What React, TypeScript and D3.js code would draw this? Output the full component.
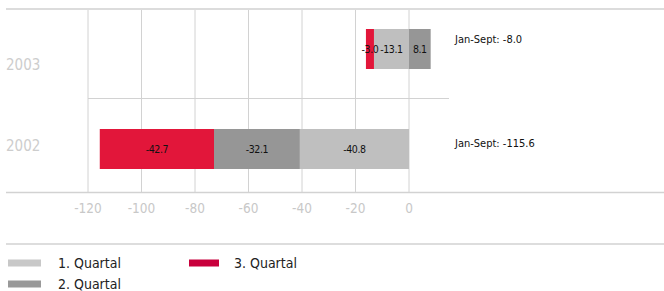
import React from "react";
import * as d3 from "d3";

const years = ["2003", "2002"];
const q1 = [-13.1, -40.8];
const q2 = [8.1, -32.1];
const q3 = [-3.0, -42.7];
const totals = ["-8.0", "-115.6"];
const ticks = [-120, -100, -80, -60, -40, -20, 0];
const seriesNames = ["1. Quartal", "2. Quartal", "3. Quartal"];

const barColors = ["#bfbfbf", "#969696", "#e2163a"];
const legendColors = ["#c8c8c8", "#999999", "#c8003c"];

const width = 664,
  height = 291;

const font = "'DejaVu Sans Condensed', 'Liberation Sans Narrow', sans-serif";

const App = () => {
  React.useEffect(() => {
    document.body.style.margin = "0";
  }, []);

  const x = d3.scaleLinear().domain([-120, 0]).range([88, 409]);
  const y = d3
    .scaleBand()
    .domain(years)
    .range([-1, 199])
    .paddingInner(0.6)
    .paddingOuter(0.3);
  // row areas used for the category labels
  const rows = d3.scaleBand().domain(years).range([10, 192]);
  const labelShift = [9, -1];

  // stack each year: negatives go left from 0, positives right
  const stacked = years.map((yr, i) => {
    const vals = [q1[i], q2[i], q3[i]];
    let neg = 0,
      pos = 0;
    return vals.map((v, k) => {
      let a, b;
      if (v < 0) {
        a = neg + v;
        b = neg;
        neg += v;
      } else {
        a = pos;
        b = pos + v;
        pos += v;
      }
      return { yr, k, v, a, b };
    });
  });

  const bw = y.bandwidth();

  return (
    <svg width={width} height={height} style={{ display: "block" }} fontFamily={font}>
      <line x1={6} x2={664} y1={9} y2={9} stroke="#dcdcdc" strokeWidth={2} />
      {ticks.map((t) => (
        <line key={t} x1={x(t)} x2={x(t)} y1={10} y2={192} stroke="#d2d2d2" strokeWidth={1} />
      ))}
      <line x1={x(-120)} x2={449} y1={98.5} y2={98.5} stroke="#d2d2d2" strokeWidth={1} />
      <line x1={6} x2={664} y1={192.5} y2={192.5} stroke="#d2d2d2" strokeWidth={1.5} />

      {years.map((yr, i) => (
        <text
          key={yr}
          x={6}
          y={(rows(yr) as number) + rows.bandwidth() / 2 + labelShift[i]}
          dy="0.35em"
          fontSize={15}
          fill="#cdcdcd"
        >
          {yr}
        </text>
      ))}

      {stacked.map((segs) =>
        segs.map((s) => (
          <g key={`${s.yr}-${s.k}`}>
            <rect
              x={x(s.a)}
              y={y(s.yr)}
              width={x(s.b) - x(s.a)}
              height={bw}
              fill={barColors[s.k]}
            />
            <text
              x={(x(s.a) + x(s.b)) / 2}
              y={(y(s.yr) as number) + bw / 2}
              dy="0.35em"
              textAnchor="middle"
              fontSize={10.5}
              letterSpacing={-0.4}
              fill="#111"
            >
              {s.v.toFixed(1)}
            </text>
          </g>
        ))
      )}

      {years.map((yr, i) => (
        <text
          key={yr}
          x={455}
          y={(y(yr) as number) + (i === 0 ? 10 : bw / 2 - 6)}
          dy="0.35em"
          fontSize={11}
          fill="#111"
        >
          {`Jan-Sept: ${totals[i]}`}
        </text>
      ))}

      {ticks.map((t) => (
        <text key={t} x={x(t)} y={208} dy="0.35em" textAnchor="middle" fontSize={13.5} fill="#c8c8c8">
          {t}
        </text>
      ))}

      <line x1={6} x2={664} y1={244} y2={244} stroke="#d2d2d2" strokeWidth={1.5} />

      {seriesNames.map((name, k) => {
        const lx = k === 2 ? 189 : 8;
        const ly = k === 1 ? 284 : 263;
        return (
          <g key={name}>
            <rect x={lx} y={ly - 3.5} width={k === 2 ? 30 : 33} height={7} fill={legendColors[k]} />
            <text x={k === 2 ? 234 : 58} y={ly} dy="0.35em" fontSize={14} fill="#222">
              {name}
            </text>
          </g>
        );
      })}
    </svg>
  );
};

export default App;
